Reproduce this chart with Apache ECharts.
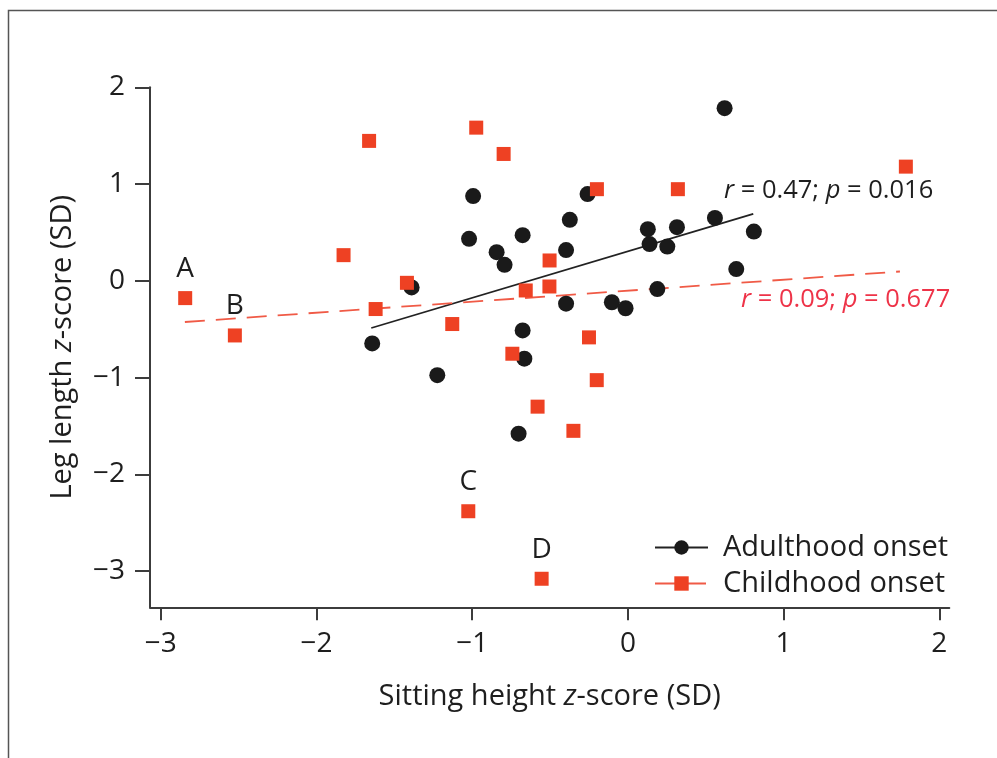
<!DOCTYPE html>
<html>
<head>
<meta charset="utf-8">
<script src="https://cdn.jsdelivr.net/npm/echarts@6/dist/echarts.min.js"></script>
<style>
html,body{margin:0;padding:0;background:#fff;}
#chart{width:997px;height:758px;}
</style>
</head>
<body>
<div id="chart"></div>
<script>
// ---- Data ----
const xTicks = [-3, -2, -1, 0, 1, 2];
const yTicks = [-3, -2, -1, 0, 1, 2];

const adultX = [-1.642, -1.389, -1.224, -0.994, -1.020, -0.843, -0.792, -0.676, -0.676, -0.665, -0.702,
                -0.397, -0.373, -0.259, -0.397, -0.103, -0.015, 0.128, 0.139, 0.253, 0.315, 0.189,
                0.559, 0.621, 0.696, 0.809];
const adultY = [-0.647, -0.069, -0.976, 0.876, 0.434, 0.296, 0.165, 0.472, -0.513, -0.805, -1.580,
                0.317, 0.630, 0.896, -0.237, -0.222, -0.284, 0.534, 0.379, 0.354, 0.554, -0.086,
                0.650, 1.784, 0.121, 0.509];

const childX = [-2.843, -2.524, -1.826, -1.662, -1.620, -1.419, -1.128, -0.974, -1.025, -0.798, -0.742,
                -0.656, -0.580, -0.554, -0.503, -0.504, -0.350, -0.250, -0.199, -0.200, 0.321, 1.785];
const childY = [-0.179, -0.565, 0.265, 1.446, -0.292, -0.021, -0.447, 1.583, -2.382, 1.311, -0.754,
                -0.100, -1.301, -3.080, 0.210, -0.059, -1.551, -0.585, 0.947, -1.027, 0.947, 1.180];
const childLabels = ['A', 'B', '', '', '', '', '', '', 'C', '', '',
                     '', '', 'D', '', '', '', '', '', '', '', ''];

const adultFitX = [-1.648, 0.805];
const adultFitY = [-0.488, 0.692];
const childFitX = [-2.845, 1.747];
const childFitY = [-0.426, 0.096];

const seriesNames = ['Adulthood onset', 'Childhood onset'];
const adultStat = {r: '0.47', p: '0.016'};
const childStat = {r: '0.09', p: '0.677'};

// ---- Styling ----
const FONT = 'Open Sans';
const TXT = '#1e1e1e';
const BLACK = '#1a1a1a';
const RED = '#ee4123';
const RED_LINE = '#f05a46';
const RED_TXT = '#ee3348';

const minus = v => (v < 0 ? '\u2212' + Math.abs(v) : String(v));

const adultData = adultX.map((x, i) => [x, adultY[i]]);
const childData = childX.map((x, i) => {
  const item = {value: [x, childY[i]]};
  if (childLabels[i]) {
    item.label = {show: true, formatter: childLabels[i], position: 'top', distance: 8,
                  fontSize: 28, fontFamily: FONT, color: TXT};
  }
  return item;
});

const chart = echarts.init(document.getElementById('chart'), null, {renderer: 'canvas'});

const option = {
  backgroundColor: '#ffffff',
  animation: false,
  textStyle: {fontFamily: FONT},
  grid: {left: 150, right: 47.7, top: 87.3, bottom: 150.7, containLabel: false},
  xAxis: {
    type: 'value', min: -3.069, max: 2.064,
    name: '{n|Sitting height }{i|z}{n|-score (SD)}',
    nameLocation: 'middle', nameGap: 75,
    nameTextStyle: {rich: {
      n: {fontSize: 29, fontFamily: FONT, color: TXT},
      i: {fontSize: 29, fontFamily: FONT, color: TXT, fontStyle: 'italic'}
    }},
    axisLine: {show: true, onZero: false, lineStyle: {color: '#3c3c3c', width: 2}},
    axisTick: {show: true, length: 13, customValues: xTicks, lineStyle: {color: '#3c3c3c', width: 2}},
    axisLabel: {customValues: xTicks, formatter: minus, fontSize: 28, fontFamily: FONT, color: TXT, margin: 23},
    splitLine: {show: false}
  },
  yAxis: {
    type: 'value', min: -3.375, max: 2,
    name: '{n|Leg length }{i|z}{n|-score (SD)}',
    nameLocation: 'middle', nameGap: 73, nameRotate: 90,
    nameTextStyle: {rich: {
      n: {fontSize: 29, fontFamily: FONT, color: TXT},
      i: {fontSize: 29, fontFamily: FONT, color: TXT, fontStyle: 'italic'}
    }},
    axisLine: {show: true, onZero: false, lineStyle: {color: '#3c3c3c', width: 2}},
    axisTick: {show: true, length: 15, customValues: yTicks, lineStyle: {color: '#3c3c3c', width: 2}},
    axisLabel: {customValues: yTicks, formatter: minus, fontSize: 28, fontFamily: FONT, color: TXT, margin: 25},
    splitLine: {show: false}
  },
  legend: {
    data: seriesNames,
    orient: 'vertical', left: 649, top: 528, itemWidth: 53, itemHeight: 18, itemGap: 7,
    textStyle: {fontSize: 29, fontFamily: FONT, color: TXT, padding: [0, 0, 0, 10]},
    selectedMode: false
  },
  series: [
    {
      name: seriesNames[0], type: 'line', data: adultFitX.map((x, i) => [x, adultFitY[i]]),
      symbol: 'circle', symbolSize: 16, showSymbol: false, silent: true,
      itemStyle: {color: BLACK},
      lineStyle: {color: '#222', width: 1.8}, z: 2
    },
    {
      name: seriesNames[1], type: 'line', data: childFitX.map((x, i) => [x, childFitY[i]]),
      symbol: 'rect', symbolSize: 14, showSymbol: false, silent: true,
      itemStyle: {color: RED},
      lineStyle: {color: RED_LINE, width: 1.8, type: [20, 11]}, z: 2
    },
    {
      name: seriesNames[0], type: 'scatter', data: adultData,
      symbol: 'circle', symbolSize: 16, itemStyle: {color: BLACK, opacity: 1}, z: 3
    },
    {
      name: seriesNames[1], type: 'scatter', data: childData,
      symbol: 'rect', symbolSize: 14, itemStyle: {color: RED, opacity: 1}, z: 4
    }
  ],
  graphic: [
    {type: 'rect', shape: {x: 8.5, y: 10.5, width: 1200, height: 1200},
     style: {fill: 'none', stroke: '#555', lineWidth: 1.5}, silent: true, z: 0},
    {type: 'text', left: 724, top: 178, silent: true,
     style: {text: '{i|r}{n| = ' + adultStat.r + '; }{i|p}{n| = ' + adultStat.p + '}',
       rich: {n: {fontSize: 25.5, fontFamily: FONT, fill: TXT}, i: {fontSize: 25.5, fontFamily: FONT, fill: TXT, fontStyle: 'italic'}}}},
    {type: 'text', left: 741, top: 287, silent: true,
     style: {text: '{i|r}{n| = ' + childStat.r + '; }{i|p}{n| = ' + childStat.p + '}',
       rich: {n: {fontSize: 25.5, fontFamily: FONT, fill: RED_TXT}, i: {fontSize: 25.5, fontFamily: FONT, fill: RED_TXT, fontStyle: 'italic'}}}}
  ]
};
chart.setOption(option);
</script>
</body>
</html>
